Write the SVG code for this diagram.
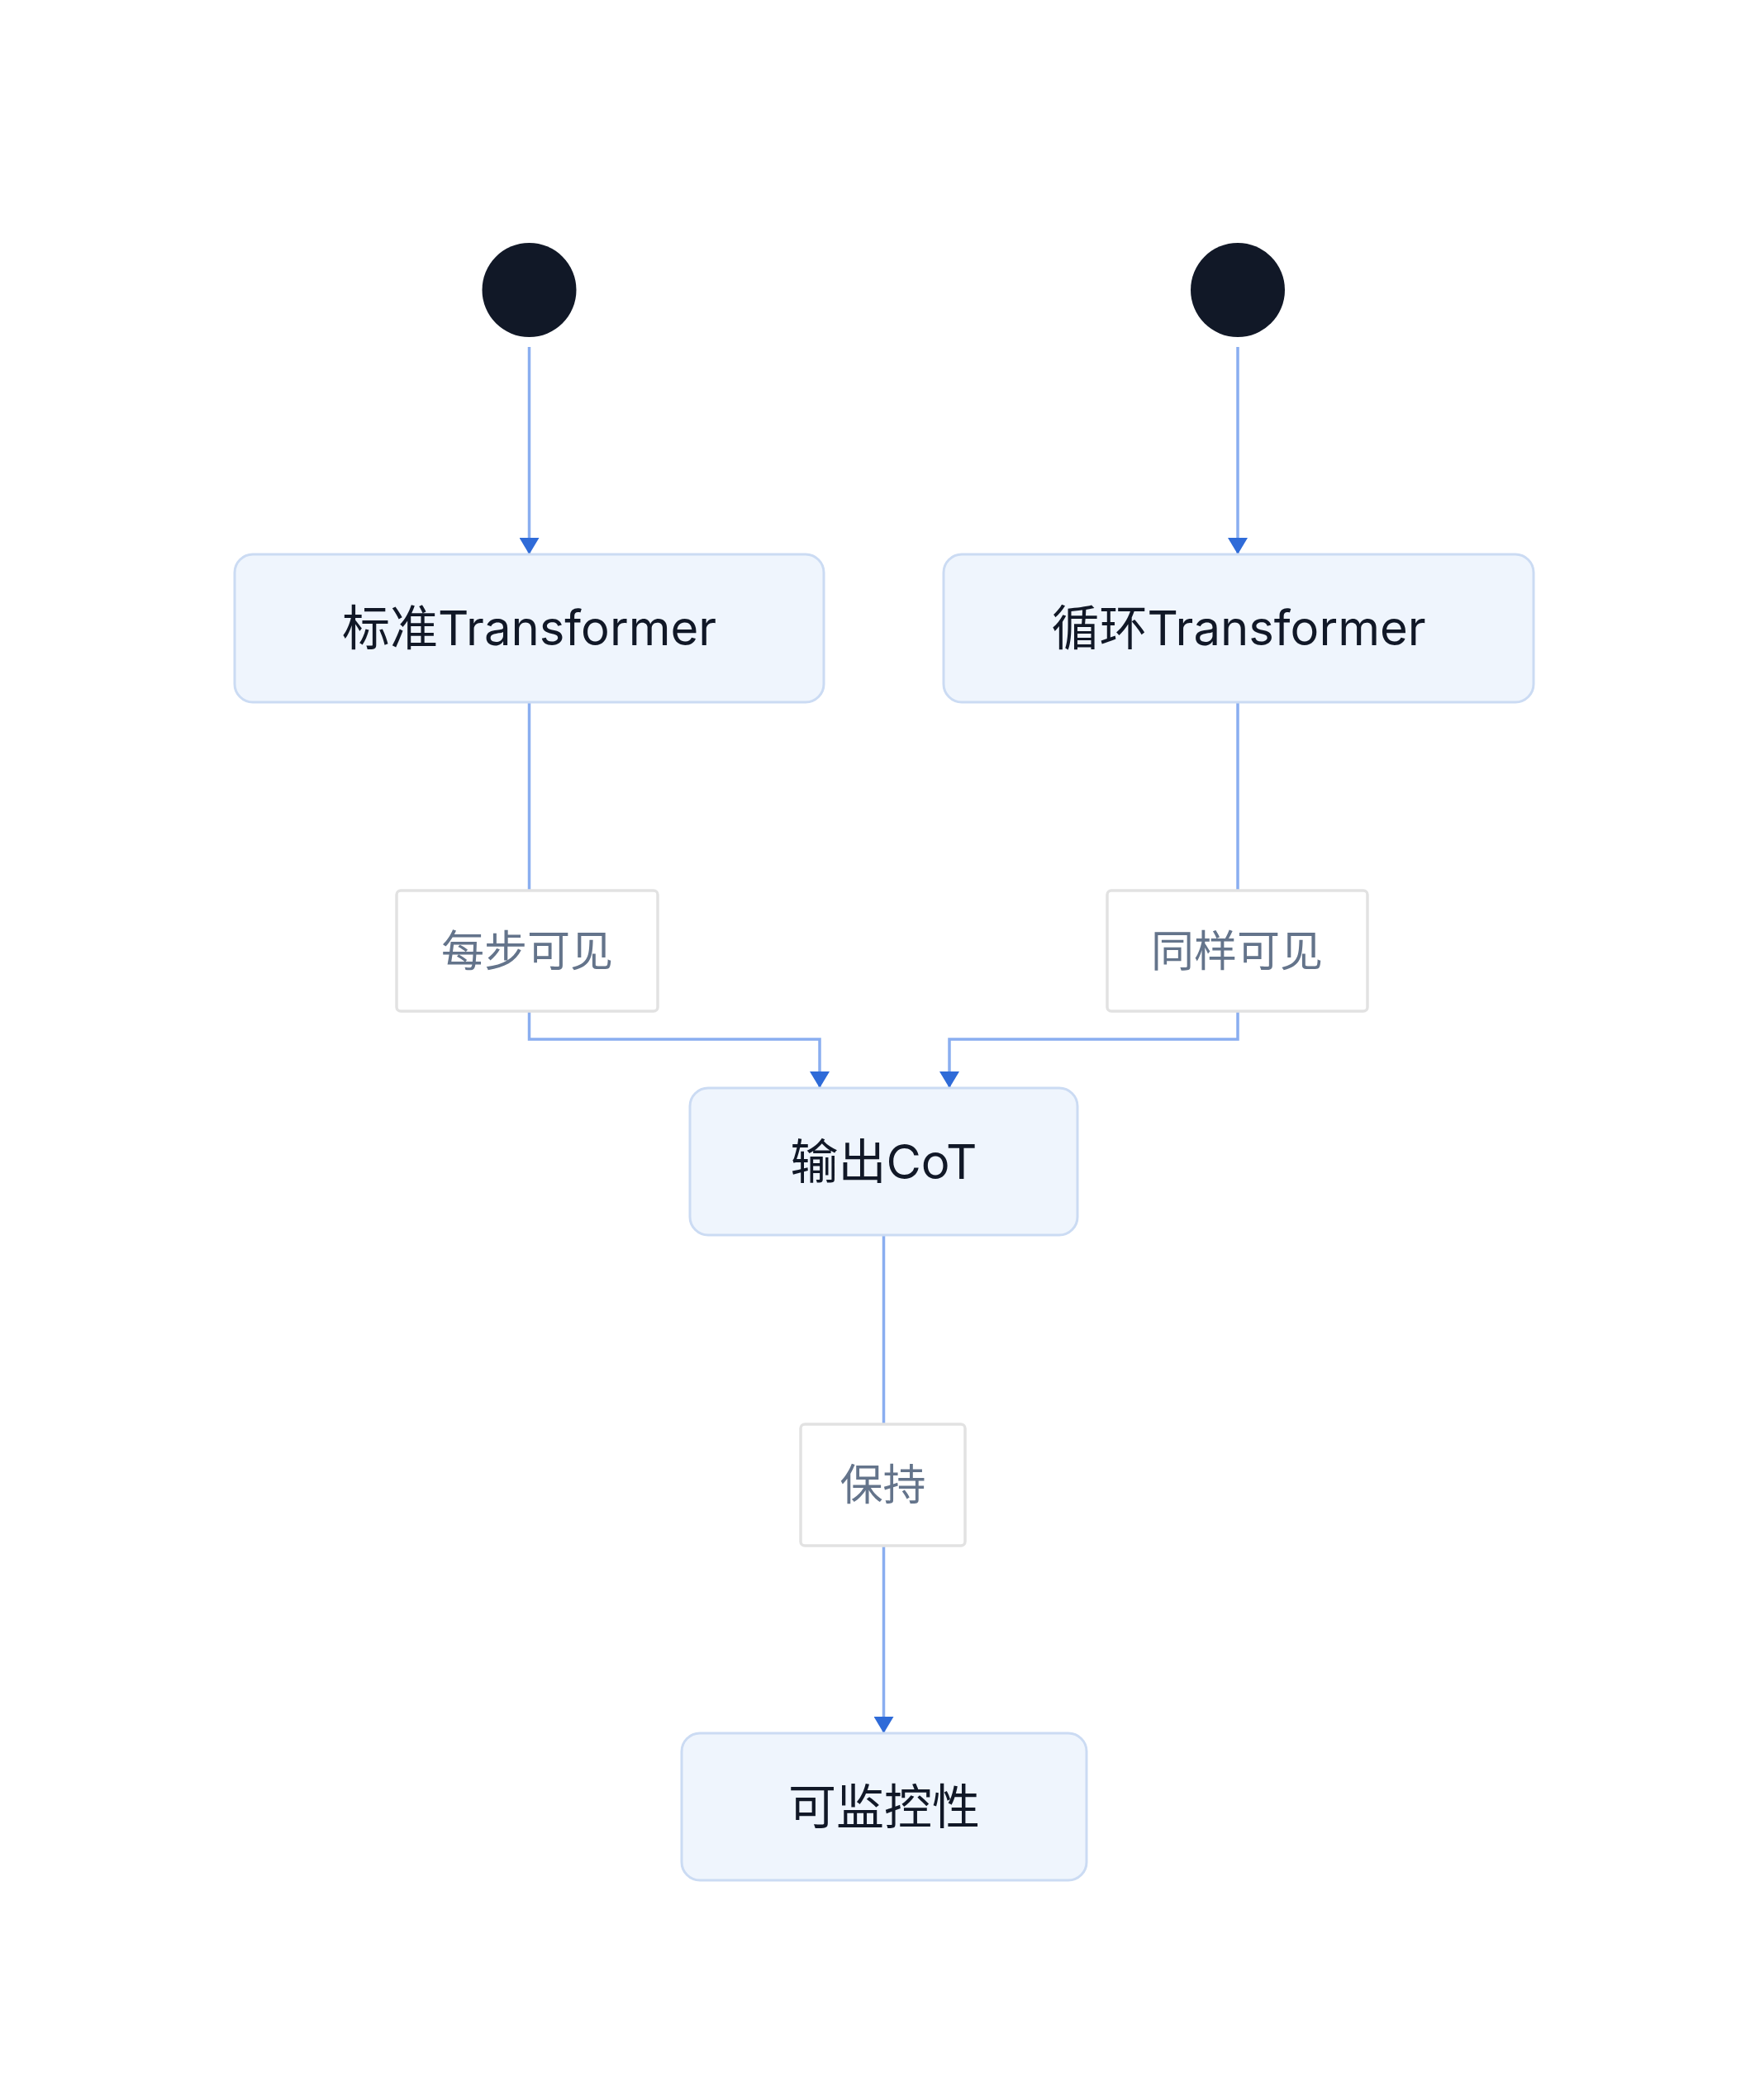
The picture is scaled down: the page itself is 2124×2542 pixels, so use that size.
<svg xmlns="http://www.w3.org/2000/svg" width="2124" height="2542" viewBox="0 0 2124 2542">
<style>
.n{fill:#eff5fd;stroke:#cbdbf3;stroke-width:3}
.l{fill:#fff;stroke:#e2e2e2;stroke-width:3.5}
.e{fill:none;stroke:#8aaef0;stroke-width:3.5}
.t{font-family:"Inter","Noto Sans CJK SC",sans-serif;font-size:58px;fill:#111827;text-anchor:middle;dominant-baseline:central}
.lt{font-family:"Inter","Noto Sans CJK SC",sans-serif;font-size:52px;fill:#64748b;text-anchor:middle;dominant-baseline:central}
</style>
<defs><marker id="a" markerWidth="10" markerHeight="12" refX="10" refY="6" orient="auto" markerUnits="userSpaceOnUse" viewBox="0 0 10 12"><path d="M0,0L10,6L0,12z" fill="#2f6bd8"/></marker>
<marker id="b" viewBox="0 0 20 24" refX="20" refY="12" markerWidth="20" markerHeight="24" orient="auto" markerUnits="userSpaceOnUse"><path d="M0,0L20,12L0,24z" fill="#2f6bd8"/></marker></defs>
<g id="edges">
<path class="e" d="M640.5,420V671" marker-end="url(#b)"/>
<path class="e" d="M1498,420V671" marker-end="url(#b)"/>
<path class="e" d="M640.5,850V1078"/>
<path class="e" d="M640.5,1224V1258H992V1317" marker-end="url(#b)"/>
<path class="e" d="M1498,850V1078"/>
<path class="e" d="M1498,1224V1258H1149V1317" marker-end="url(#b)"/>
<path class="e" d="M1069.5,1495V1724"/>
<path class="e" d="M1069.5,1871V2098" marker-end="url(#b)"/>
</g>
<g id="start1"><circle cx="640.5" cy="351" r="57" fill="#111827"/></g>
<g id="start2"><circle cx="1498" cy="351" r="57" fill="#111827"/></g>
<g id="std"><rect class="n" x="284" y="671" width="713" height="179" rx="22"/><text class="t" x="640.5" y="760">标准Transformer</text></g>
<g id="loop"><rect class="n" x="1142" y="671" width="714" height="179" rx="22"/><text class="t" x="1499" y="760">循环Transformer</text></g>
<g id="lab1"><rect class="l" x="480" y="1078" width="316" height="146" rx="5"/><text class="lt" x="638" y="1151">每步可见</text></g>
<g id="lab2"><rect class="l" x="1340" y="1078" width="315" height="146" rx="5"/><text class="lt" x="1497" y="1151">同样可见</text></g>
<g id="cot"><rect class="n" x="835" y="1317" width="469" height="178" rx="22"/><text class="t" x="1069.5" y="1406">输出CoT</text></g>
<g id="lab3"><rect class="l" x="969" y="1724" width="199" height="147" rx="5"/><text class="lt" x="1068.5" y="1797">保持</text></g>
<g id="mon"><rect class="n" x="825" y="2098" width="490" height="178" rx="22"/><text class="t" x="1070" y="2187">可监控性</text></g>
</svg>
